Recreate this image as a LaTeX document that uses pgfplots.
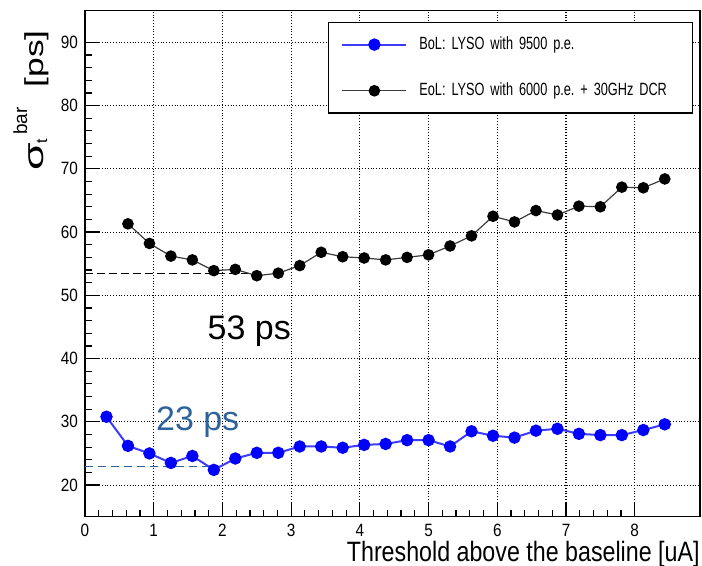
\documentclass[border=0pt]{standalone}
\usepackage{graphicx}
\usepackage{fontspec}
\setmainfont{Liberation Sans}
\newfontfamily\tickfont[FakeStretch=0.86]{Liberation Sans}
\newfontfamily\xlabfont[FakeStretch=0.83]{Liberation Sans}
\newfontfamily\legfont[FakeStretch=0.72]{Liberation Sans}
\usepackage{pgfplots}
\pgfplotsset{compat=1.18}

\definecolor{bolblue}{RGB}{0,0,255}
\definecolor{bolline}{RGB}{60,60,255}
\definecolor{annblue}{RGB}{46,98,156}
\definecolor{eolline}{RGB}{60,60,60}

% y label pieces, sized to the ROOT original
\newcommand{\sigmalabel}{%
  \scalebox{1.6}[1]{\fontsize{14}{14}\selectfont σ}%
  \raisebox{-2pt}{\fontsize{8}{8}\selectfont t}\hspace{2pt}%
  \raisebox{8pt}{\fontsize{9.5}{9.5}\selectfont bar}\hspace{10pt}%
  \scalebox{1.36}[1]{\fontsize{13}{13}\selectfont [ps]}}

\begin{document}
\frenchspacing
\begin{tikzpicture}
\begin{axis}[
  scale only axis, width=307.5pt, height=253pt,
  xmin=0, xmax=8.95, ymin=15, ymax=95,
  xtick={0,1,...,8}, ytick={20,30,...,90},
  minor x tick num=4, minor y tick num=4,
  tick align=inside, xtick pos=left, ytick pos=left,
  major tick length=7.5pt, minor tick length=3.5pt,
  every tick/.style={black, line width=0.6pt},
  axis line style={line width=0.8pt},
  grid=major, major grid style={black, densely dotted, line width=0.55pt},
  /pgf/number format/assume math mode=true,
  ticklabel style={font=\tickfont\fontsize{8.9}{10}\selectfont},
  xlabel={Threshold above the baseline [uA]},
  xlabel style={font=\xlabfont\fontsize{14}{16}\selectfont, inner sep=0pt,
    at={(rel axis cs:1,0)}, anchor=base east, yshift=-22.5pt},
  ylabel={\sigmalabel},
  ylabel style={inner sep=0pt, at={(axis cs:-0.611,91.95)}, anchor=base east},
  legend style={
    at={(rel axis cs:1,1)}, anchor=north east, xshift=-3.5pt, yshift=-5.5pt,
    draw=black, line width=0.6pt, fill=white,
    inner xsep=6.5pt, inner ysep=7pt,
    row sep=14.8pt, column sep=6pt,
    font=\legfont\fontsize{8.85}{10}\selectfont,
    nodes={inner sep=0pt, text height=6.4pt, text depth=1.9pt, text width=130pt, align=left},
  },
  legend cell align=left,
  legend image code/.code={
    \draw[#1, mark repeat=2, mark phase=2] plot coordinates {(0pt,0pt) (16pt,0pt) (32pt,0pt)};
  },
]
\coordinate (LL) at (rel axis cs:0,0);
\coordinate (UR) at (rel axis cs:1,1);

% minimum markers
\addplot[black, dash pattern=on 4pt off 2pt, line width=0.5pt, forget plot]
  coordinates {(0,53.4) (2.45,53.4)};
\addplot[annblue, dash pattern=on 4pt off 2.5pt, line width=0.5pt, forget plot]
  coordinates {(0,22.9) (1.91,22.9)};

% BoL
\addplot[color=bolline, line width=1pt, mark=*, mark size=2.6pt,
  mark options={fill=bolblue, draw=bolblue}] coordinates {
  (0.3125,30.8) (0.625,26.2) (0.9375,25.0) (1.25,23.5) (1.5625,24.6)
  (1.875,22.4) (2.1875,24.2) (2.5,25.1) (2.8125,25.1) (3.125,26.1)
  (3.4375,26.1) (3.75,25.9) (4.0625,26.35) (4.375,26.5) (4.6875,27.1)
  (5.0,27.1) (5.3125,26.1) (5.625,28.5) (5.9375,27.8) (6.25,27.5)
  (6.5625,28.6) (6.875,28.9) (7.1875,28.1) (7.5,27.9) (7.8125,27.9)
  (8.125,28.7) (8.4375,29.6)
};
\addlegendentry{BoL: LYSO with 9500 p.e.}

% EoL
\addplot[color=eolline, line width=0.6pt, mark=*, mark size=2.6pt,
  mark options={fill=black, draw=black}] coordinates {
  (0.625,61.3) (0.9375,58.2) (1.25,56.2) (1.5625,55.6)
  (1.875,53.9) (2.1875,54.1) (2.5,53.1) (2.8125,53.5) (3.125,54.7)
  (3.4375,56.8) (3.75,56.1) (4.0625,55.9) (4.375,55.6) (4.6875,56.0)
  (5.0,56.4) (5.3125,57.8) (5.625,59.4) (5.9375,62.5) (6.25,61.6)
  (6.5625,63.4) (6.875,62.7) (7.1875,64.1) (7.5,64.0) (7.8125,67.1)
  (8.125,67.0) (8.4375,68.4)
};
\addlegendentry{EoL: LYSO with 6000 p.e. + 30GHz DCR}

\node[font=\fontsize{17}{20}\selectfont, anchor=base] at (axis cs:2.39,42.97) {53 ps};
\node[font=\fontsize{17}{20}\selectfont, text=annblue, anchor=base] at (axis cs:1.64,28.7) {23 ps};
\end{axis}
\pgfresetboundingbox
\path[use as bounding box] ([xshift=-42.5pt,yshift=-24.65pt]LL) rectangle ([xshift=1pt,yshift=5.35pt]UR);
\end{tikzpicture}
\end{document}
